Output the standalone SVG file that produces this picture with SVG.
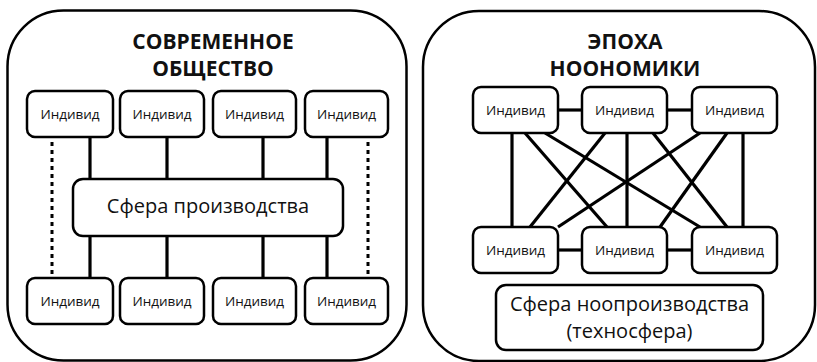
<svg xmlns="http://www.w3.org/2000/svg" width="817" height="362" viewBox="0 0 817 362">
<style>
.outer{fill:#fff;stroke:#000;stroke-width:2.5}
.box{fill:#fff;stroke:#000;stroke-width:2.5}
.t{font-family:"Open Sans","Liberation Sans",sans-serif;fill:#111;text-anchor:middle}
.ind{font-size:13.5px}
.big{font-size:20px}
.title{font-size:21px;font-weight:700}
.ln{stroke:#000;stroke-width:3.2;fill:none}
.dot{stroke:#000;stroke-width:3;stroke-dasharray:4 4;fill:none}
</style>
<rect width="817" height="362" fill="#fff"/>
<g id="frame-left"><rect class="outer" x="7.5" y="10.5" width="399" height="350" rx="56"/>
<text class="t title" x="213" y="49">СОВРЕМЕННОЕ</text>
<text class="t title" x="213" y="76">ОБЩЕСТВО</text></g>
<g id="frame-right"><rect class="outer" x="423" y="11" width="392" height="350" rx="56"/>
<text class="t title" x="625" y="49">ЭПОХА</text>
<text class="t title" x="625" y="76">НООНОМИКИ</text></g>
<g id="connectors">
<line class="ln" x1="90" y1="137" x2="90" y2="179"/>
<line class="ln" x1="167" y1="137" x2="167" y2="179"/>
<line class="ln" x1="263" y1="137" x2="263" y2="179"/>
<line class="ln" x1="327" y1="137" x2="327" y2="179"/>
<line class="ln" x1="90" y1="236" x2="90" y2="278"/>
<line class="ln" x1="167" y1="236" x2="167" y2="278"/>
<line class="ln" x1="263" y1="236" x2="263" y2="278"/>
<line class="ln" x1="327" y1="236" x2="327" y2="278"/>
<line class="dot" x1="52" y1="142" x2="52" y2="277"/>
<line class="dot" x1="368" y1="142" x2="368" y2="277"/>
<line class="ln" x1="558" y1="110" x2="582" y2="110"/>
<line class="ln" x1="667" y1="110" x2="692" y2="110"/>
<line class="ln" x1="558" y1="250" x2="582" y2="250"/>
<line class="ln" x1="667" y1="250" x2="692" y2="250"/>
<line class="ln" x1="512" y1="133" x2="512" y2="227"/>
<line class="ln" x1="627" y1="133" x2="627" y2="227"/>
<line class="ln" x1="743" y1="133" x2="743" y2="227"/>
<line class="ln" x1="525" y1="133" x2="607" y2="227"/>
<line class="ln" x1="545" y1="133" x2="700" y2="227"/>
<line class="ln" x1="605" y1="133" x2="530" y2="227"/>
<line class="ln" x1="653" y1="133" x2="727" y2="227"/>
<line class="ln" x1="700" y1="133" x2="558" y2="227"/>
<line class="ln" x1="727" y1="133" x2="660" y2="227"/>
</g>
<g id="ind-l1"><rect class="box" x="27" y="91" width="86" height="46" rx="8"/><text class="t ind" x="70" y="119">Индивид</text></g>
<g id="ind-l2"><rect class="box" x="120" y="91" width="84" height="46" rx="8"/><text class="t ind" x="162" y="119">Индивид</text></g>
<g id="ind-l3"><rect class="box" x="213" y="91" width="83" height="46" rx="8"/><text class="t ind" x="254.5" y="119">Индивид</text></g>
<g id="ind-l4"><rect class="box" x="305" y="91" width="83" height="46" rx="8"/><text class="t ind" x="346.5" y="119">Индивид</text></g>
<g id="sphere-prod"><rect class="box" x="73" y="179" width="270" height="57" rx="10"/><text class="t big" x="208" y="213">Сфера производства</text></g>
<g id="ind-l5"><rect class="box" x="27" y="278" width="86" height="46" rx="8"/><text class="t ind" x="70" y="306">Индивид</text></g>
<g id="ind-l6"><rect class="box" x="120" y="278" width="84" height="46" rx="8"/><text class="t ind" x="162" y="306">Индивид</text></g>
<g id="ind-l7"><rect class="box" x="213" y="278" width="83" height="46" rx="8"/><text class="t ind" x="254.5" y="306">Индивид</text></g>
<g id="ind-l8"><rect class="box" x="305" y="278" width="83" height="46" rx="8"/><text class="t ind" x="346.5" y="306">Индивид</text></g>
<g id="ind-r1"><rect class="box" x="473" y="87" width="85" height="46" rx="8"/><text class="t ind" x="515.5" y="115">Индивид</text></g>
<g id="ind-r2"><rect class="box" x="582" y="87" width="85" height="46" rx="8"/><text class="t ind" x="624.5" y="115">Индивид</text></g>
<g id="ind-r3"><rect class="box" x="692" y="87" width="85" height="46" rx="8"/><text class="t ind" x="734.5" y="115">Индивид</text></g>
<g id="ind-r4"><rect class="box" x="473" y="227" width="85" height="46" rx="8"/><text class="t ind" x="515.5" y="255">Индивид</text></g>
<g id="ind-r5"><rect class="box" x="582" y="227" width="85" height="46" rx="8"/><text class="t ind" x="624.5" y="255">Индивид</text></g>
<g id="ind-r6"><rect class="box" x="692" y="227" width="85" height="46" rx="8"/><text class="t ind" x="734.5" y="255">Индивид</text></g>
<g id="sphere-noo"><rect class="box" x="496" y="285" width="267" height="65" rx="10"/><text class="t big" x="629.5" y="311">Сфера ноопроизводства</text><text class="t big" x="629.5" y="338">(техносфера)</text></g>
</svg>
